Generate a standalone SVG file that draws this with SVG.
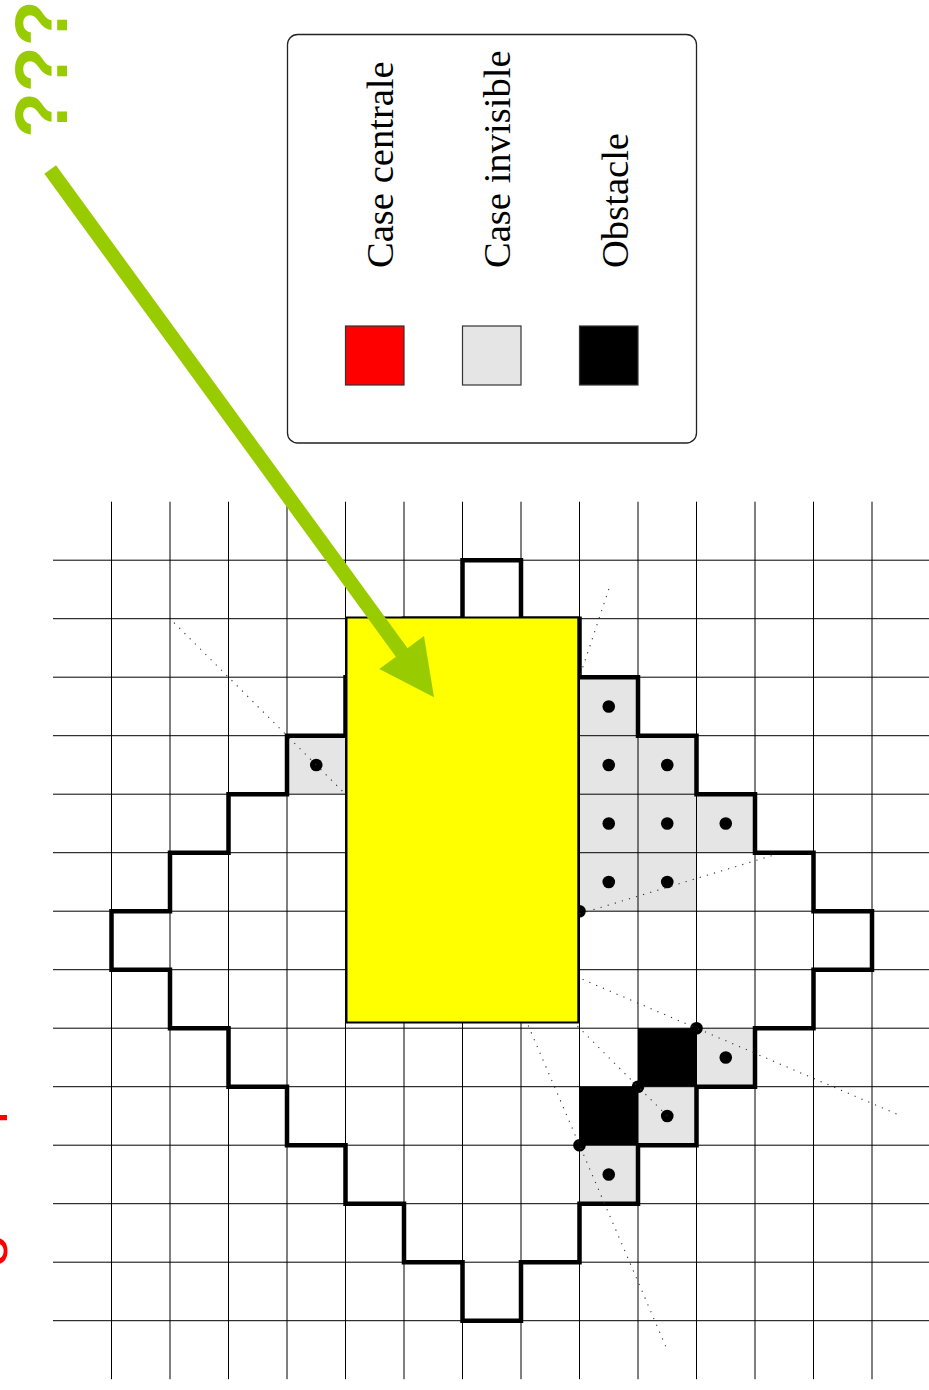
<svg xmlns="http://www.w3.org/2000/svg" width="929" height="1390" viewBox="0 0 929 1390">
<style>
.grid{stroke:#000;stroke-width:1;fill:none}
.inv{fill:#e5e5e5}
.obs{fill:#000}
.dot{fill:#000}
.outline{fill:none;stroke:#000;stroke-width:4.5;stroke-linejoin:miter}
.sight{fill:none;stroke:#333;stroke-width:1.1;stroke-dasharray:1.2 6.2}
.lbl{font-family:"Liberation Serif","Times New Roman",serif;font-size:38.6px;fill:#000}
.sw{stroke:#333;stroke-width:1.2}
</style>
<rect width="929" height="1390" fill="#fff"/>

<g id="cells">
<rect class="inv" x="579.5" y="677.2" width="58.5" height="58.5"/>
<rect class="inv" x="579.5" y="735.7" width="58.5" height="58.5"/>
<rect class="inv" x="638" y="735.7" width="58.5" height="58.5"/>
<rect class="inv" x="579.5" y="794.2" width="58.5" height="58.5"/>
<rect class="inv" x="638" y="794.2" width="58.5" height="58.5"/>
<rect class="inv" x="696.5" y="794.2" width="58.5" height="58.5"/>
<rect class="inv" x="579.5" y="852.7" width="58.5" height="58.5"/>
<rect class="inv" x="638" y="852.7" width="58.5" height="58.5"/>
<rect class="inv" x="287" y="735.7" width="58.5" height="58.5"/>
<rect class="inv" x="696.5" y="1028.2" width="58.5" height="58.5"/>
<rect class="inv" x="638" y="1086.7" width="58.5" height="58.5"/>
<rect class="inv" x="579.5" y="1145.2" width="58.5" height="58.5"/>
<rect class="obs" x="638" y="1028.2" width="58.5" height="58.5"/>
<rect class="obs" x="579.5" y="1086.7" width="58.5" height="58.5"/>
</g>

<g id="grid">
<path class="grid" d="M111.5 501.7V1379.2M170 501.7V1379.2M228.5 501.7V1379.2M287 501.7V1379.2M345.5 501.7V1379.2M404 501.7V1379.2M462.5 501.7V1379.2M521 501.7V1379.2M579.5 501.7V1379.2M638 501.7V1379.2M696.5 501.7V1379.2M755 501.7V1379.2M813.5 501.7V1379.2M872 501.7V1379.2"/>
<path class="grid" d="M53 560.2H930M53 618.7H930M53 677.2H930M53 735.7H930M53 794.2H930M53 852.7H930M53 911.2H930M53 969.7H930M53 1028.2H930M53 1086.7H930M53 1145.2H930M53 1203.7H930M53 1262.2H930M53 1320.7H930"/>
</g>

<g id="region">
<polygon class="outline" points="462.5,560.2 521,560.2 521,618.7 579.5,618.7 579.5,677.2 638,677.2 638,735.7 696.5,735.7 696.5,794.2 755,794.2 755,852.7 813.5,852.7 813.5,911.2 872,911.2 872,969.7 813.5,969.7 813.5,1028.2 755,1028.2 755,1086.7 696.5,1086.7 696.5,1145.2 638,1145.2 638,1203.7 579.5,1203.7 579.5,1262.2 521,1262.2 521,1320.7 462.5,1320.7 462.5,1262.2 404,1262.2 404,1203.7 345.5,1203.7 345.5,1145.2 287,1145.2 287,1086.7 228.5,1086.7 228.5,1028.2 170,1028.2 170,969.7 111.5,969.7 111.5,911.2 170,911.2 170,852.7 228.5,852.7 228.5,794.2 287,794.2 287,735.7 345.5,735.7 345.5,677.2 404,677.2 404,618.7 462.5,618.7"/>
</g>

<g id="marks">
<circle class="dot" cx="608.75" cy="706.45" r="6.3"/>
<circle class="dot" cx="608.75" cy="764.95" r="6.3"/>
<circle class="dot" cx="667.25" cy="764.95" r="6.3"/>
<circle class="dot" cx="608.75" cy="823.45" r="6.3"/>
<circle class="dot" cx="667.25" cy="823.45" r="6.3"/>
<circle class="dot" cx="725.75" cy="823.45" r="6.3"/>
<circle class="dot" cx="608.75" cy="881.95" r="6.3"/>
<circle class="dot" cx="667.25" cy="881.95" r="6.3"/>
<circle class="dot" cx="316.25" cy="764.95" r="6.3"/>
<circle class="dot" cx="725.75" cy="1057.45" r="6.3"/>
<circle class="dot" cx="667.25" cy="1115.95" r="6.3"/>
<circle class="dot" cx="608.75" cy="1174.45" r="6.3"/>
<circle class="dot" cx="579.5" cy="911.2" r="6.3"/>
<circle class="dot" cx="696.5" cy="1028.2" r="6.3"/>
<circle class="dot" cx="638" cy="1086.7" r="6.3"/>
<circle class="dot" cx="579.5" cy="1145.2" r="6.3"/>
</g>

<g id="connectors">
<line class="sight" x1="174" y1="622.7" x2="491.75" y2="940.45"/>
<line class="sight" x1="608.9" y1="589" x2="491.75" y2="940.45"/>
<line class="sight" x1="771.7" y1="855.7" x2="491.75" y2="940.45"/>
<line class="sight" x1="896.5" y1="1113.95" x2="491.75" y2="940.45"/>
<line class="sight" x1="667.25" y1="1115.95" x2="491.75" y2="940.45"/>
<line class="sight" x1="665.7" y1="1346.3" x2="491.75" y2="940.45"/>
</g>

<g id="central">
<rect x="346.5" y="617.5" width="231.8" height="405" fill="#ffff00" stroke="#000" stroke-width="2"/>
</g>

<g id="legend">
<rect x="287.5" y="34.5" width="409" height="408.5" rx="10" ry="10" fill="#fff" stroke="#222" stroke-width="1.3"/>
<rect class="sw" x="345.5" y="326" width="58.5" height="59" fill="#ff0000"/>
<rect class="sw" x="462.5" y="326" width="58.5" height="59" fill="#e5e5e5"/>
<rect class="sw" x="579.5" y="326" width="58.5" height="59" fill="#000"/>
<text class="lbl" transform="translate(393.3,268) rotate(-90)">Case centrale</text>
<text class="lbl" transform="translate(510.3,268) rotate(-90)">Case invisible</text>
<text class="lbl" transform="translate(627.8,268) rotate(-90)">Obstacle</text>
</g>

<g id="annotation">
<line x1="50.2" y1="169.5" x2="405" y2="657" stroke="#99cc00" stroke-width="14.5"/>
<polygon points="434,697.3 379.3,669 424,636" fill="#99cc00"/>
<text transform="translate(66.7,138) rotate(-90)" font-family="Liberation Sans, Arial, sans-serif" font-weight="bold" font-size="75" fill="#99cc00">???</text>
<text transform="translate(7,1117.5) rotate(-90)" text-anchor="middle" font-family="Liberation Sans, Arial, sans-serif" font-size="60" fill="#ff0000">l</text>
<text transform="translate(7,1251) rotate(-90)" text-anchor="middle" font-family="Liberation Sans, Arial, sans-serif" font-size="60" fill="#ff0000">o</text>
</g>
</svg>
